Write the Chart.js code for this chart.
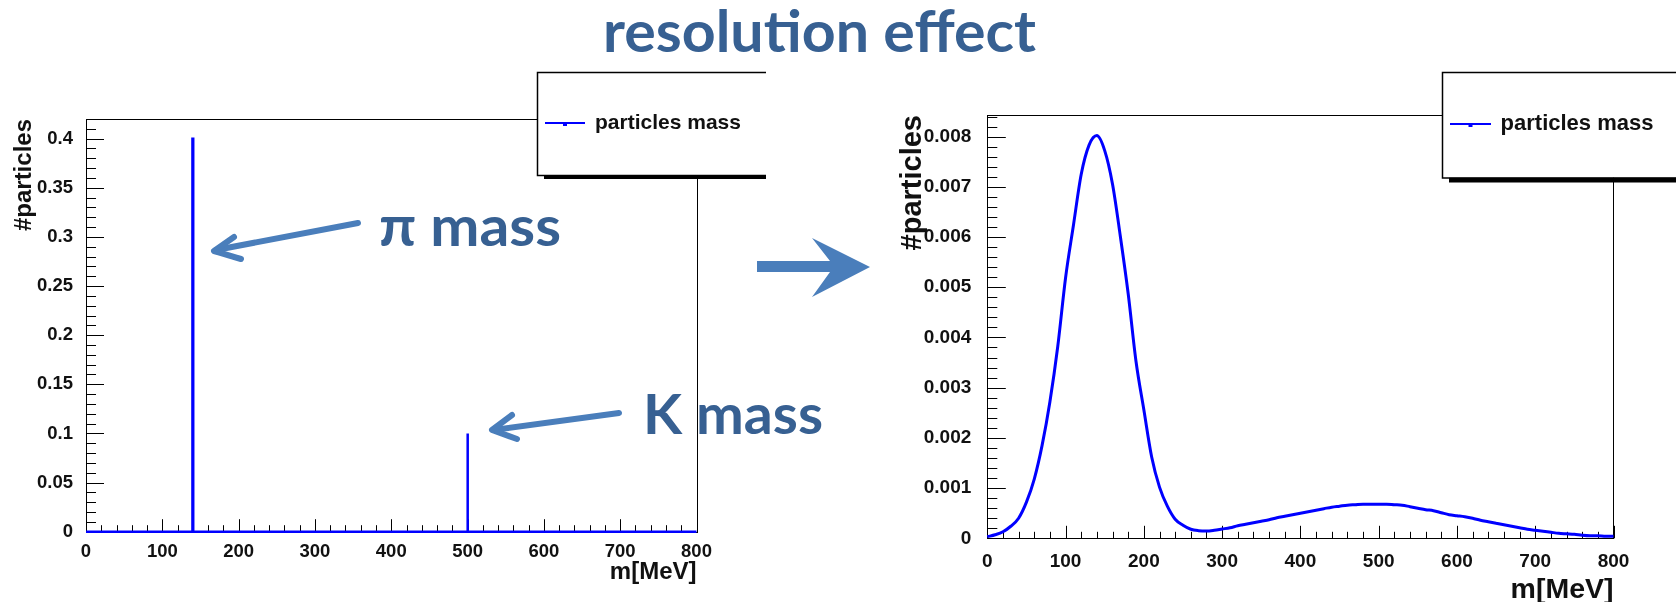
<!DOCTYPE html>
<html>
<head>
<meta charset="utf-8">
<script src="https://cdn.jsdelivr.net/npm/chart.js@4.4.1/dist/chart.umd.min.js"></script>
<style>
  html, body { margin: 0; padding: 0; background: #fff; overflow: hidden; }
  #page { position: relative; width: 1676px; height: 602px; overflow: hidden; }
  canvas { position: absolute; top: 0; }
  #leftChart { left: 0; }
  #rightChart { left: 840px; }
  #overlay { position: absolute; left: 0; top: 0; pointer-events: none; }
</style>
</head>
<body>
<div id="page">
  <canvas id="leftChart" width="766" height="640"></canvas>
  <canvas id="rightChart" width="836" height="640"></canvas>
  <svg id="overlay" width="1676" height="602" xmlns="http://www.w3.org/2000/svg">
    <text x="603" y="52" textLength="433" lengthAdjust="spacingAndGlyphs"
          font-family="Lato" font-weight="700" font-size="58" fill="#376092">resolution effect</text>
    <text x="379" y="246" textLength="182" lengthAdjust="spacingAndGlyphs"
          font-family="Lato" font-weight="700" font-size="56" fill="#376092">π mass</text>
    <text x="643" y="434" textLength="180" lengthAdjust="spacingAndGlyphs"
          font-family="Lato" font-weight="700" font-size="56" fill="#376092">K mass</text>
    <!-- pointer arrows -->
    <g stroke="#4a7ebb" stroke-width="6" fill="none" stroke-linecap="round" stroke-linejoin="round">
      <line x1="358" y1="223" x2="216" y2="250"/>
      <polyline points="234,237 214,251 241,259"/>
      <line x1="619" y1="413" x2="494" y2="430"/>
      <polyline points="512,415 492,430 517,439"/>
    </g>
    <polygon fill="#4a7ebb" points="757,261 830,261 812,238 870,267 812,297 830,272 757,272"/>
  </svg>
</div>

<script>
// ---- data ----
const xTicks = [0, 100, 200, 300, 400, 500, 600, 700, 800];

// left: true masses (delta peaks)
const trueMass = [140, 500];
const trueCount = [0.4, 0.1];
const leftYTicks = [0, 0.05, 0.1, 0.15, 0.2, 0.25, 0.3, 0.35, 0.4];
const leftYLabels = ['0', '0.05', '0.1', '0.15', '0.2', '0.25', '0.3', '0.35', '0.4'];

// right: smeared mass distribution
const smearMass = [0, 10, 20, 30, 40, 50, 60, 70, 80, 90,
    100, 110, 120, 130, 140, 150, 160, 170, 180, 190,
    200, 210, 220, 230, 240, 250, 260, 270, 280, 290,
    300, 310, 320, 330, 340, 350, 360, 370, 380, 390,
    400, 410, 420, 430, 440, 450, 460, 470, 480, 490,
    500, 510, 520, 530, 540, 550, 560, 570, 580, 590,
    600, 610, 620, 630, 640, 650, 660, 670, 680, 690,
    700, 710, 720, 730, 740, 750, 760, 770, 780, 790, 800];
const smearCount = [0.00003, 0.00007, 0.00013, 0.00024, 0.0004, 0.00072, 0.00118, 0.00185, 0.00272, 0.00382,
    0.00519, 0.00623, 0.00725, 0.00783, 0.00802, 0.00772, 0.00705, 0.00601, 0.00487, 0.00352,
    0.00256, 0.00162, 0.00102, 0.00064, 0.00038, 0.00026, 0.00018, 0.000152, 0.000145, 0.00016,
    0.000185, 0.00021, 0.00025, 0.00028, 0.00031, 0.00034, 0.00037, 0.00041, 0.00044, 0.00047,
    0.0005, 0.00053, 0.00056, 0.00059, 0.00062, 0.00064, 0.00066, 0.00067, 0.00068, 0.00068,
    0.00068, 0.00068, 0.00067, 0.00066, 0.00063, 0.0006, 0.00057, 0.00055, 0.00051, 0.00047,
    0.00045, 0.00043, 0.0004, 0.00036, 0.00033, 0.0003, 0.00027, 0.00024, 0.00021, 0.00018,
    0.00016, 0.00014, 0.00012, 0.0001, 0.00009, 0.00008, 0.00006, 0.00005, 0.00005, 0.00004, 0.00004];
const rightYTicks = [0, 0.001, 0.002, 0.003, 0.004, 0.005, 0.006, 0.007, 0.008];
const rightYLabels = ['0', '0.001', '0.002', '0.003', '0.004', '0.005', '0.006', '0.007', '0.008'];

const seriesLabel = 'particles mass';
const BLUE = '#0000ff';
const FONT = '"Liberation Sans", Arial, sans-serif';

// histogram with 1 MeV bins, drawn as steps
function stepPoints(masses, counts, lo, hi) {
    const pts = [{ x: lo, y: 0 }];
    masses.forEach((m, i) => {
        pts.push({ x: m - 0.5, y: 0 });
        pts.push({ x: m - 0.5, y: counts[i] });
        pts.push({ x: m + 0.5, y: counts[i] });
        pts.push({ x: m + 0.5, y: 0 });
    });
    pts.push({ x: hi, y: 0 });
    return pts;
}

// ROOT-style frame: box and inward ticks under the data, legend box with shadow on top
const rootFrame = {
    id: 'rootFrame',
    beforeDatasetsDraw(chart, args, o) {
        const ctx = chart.ctx;
        const a = chart.chartArea;
        const xs = chart.scales.x, ys = chart.scales.y;
        ctx.save();
        ctx.strokeStyle = '#000';
        ctx.lineWidth = 1;
        ctx.strokeRect(Math.round(a.left) + 0.5, Math.round(a.top) + 0.5,
            Math.round(a.right - a.left), Math.round(a.bottom - a.top));

        ctx.beginPath();
        for (let k = 0; k * o.xMinor <= xs.max + 1e-9; k++) {
            const v = k * o.xMinor;
            const major = Math.abs(v / o.xMajor - Math.round(v / o.xMajor)) < 1e-6;
            const px = Math.round(xs.getPixelForValue(v)) + 0.5;
            ctx.moveTo(px, a.bottom);
            ctx.lineTo(px, a.bottom - (major ? o.xMajorLen : o.xMinorLen));
        }
        for (let k = 0; k * o.yMinor <= ys.max + 1e-12; k++) {
            const v = k * o.yMinor;
            const major = Math.abs(v / o.yMajor - Math.round(v / o.yMajor)) < 1e-6;
            const py = Math.round(ys.getPixelForValue(v)) + 0.5;
            ctx.moveTo(a.left, py);
            ctx.lineTo(a.left + (major ? o.yMajorLen : o.yMinorLen), py);
        }
        ctx.stroke();
        ctx.restore();
    },
    afterDraw(chart, args, o) {
        const ctx = chart.ctx;
        const L = o.legend;
        const ds = chart.data.datasets[0];
        ctx.save();
        ctx.fillStyle = '#000';
        ctx.fillRect(L.x + 7, L.y + L.h, 400, L.shadow);
        ctx.fillStyle = '#fff';
        ctx.fillRect(L.x, L.y, 400, L.h);
        ctx.strokeStyle = '#000';
        ctx.lineWidth = 1.5;
        ctx.strokeRect(L.x + 0.5, L.y + 0.5, 400, L.h);
        ctx.strokeStyle = ds.borderColor;
        ctx.lineWidth = 2;
        ctx.beginPath();
        ctx.moveTo(L.x + 8, L.ly);
        ctx.lineTo(L.x + 8 + L.lw, L.ly);
        ctx.stroke();
        ctx.fillStyle = ds.borderColor;
        ctx.fillRect(L.x + 8 + L.lw / 2 - 2, L.ly - 1, 4, 4);
        ctx.fillStyle = '#111';
        ctx.font = 'bold ' + L.fs + 'px ' + FONT;
        ctx.textBaseline = 'middle';
        ctx.fillText(ds.label, L.tx, L.ly);
        ctx.restore();
    }
};

function makeChart(id, data, yMax, yTicks, yLabels, geo) {
    return new Chart(document.getElementById(id), {
        type: 'line',
        data: { datasets: [data] },
        options: {
            responsive: false,
            animation: false,
            devicePixelRatio: 1,
            layout: { padding: { left: 0, top: geo.top, right: geo.right, bottom: 0 } },
            plugins: {
                legend: { display: false },
                tooltip: { enabled: false },
                rootFrame: geo.frame
            },
            elements: { point: { radius: 0 } },
            scales: {
                x: {
                    type: 'linear', min: 0, max: 800,
                    grid: { display: false }, border: { display: false },
                    afterBuildTicks: s => { s.ticks = xTicks.map(v => ({ value: v })); },
                    afterFit: s => { s.height = geo.xh; },
                    ticks: {
                        autoSkip: false, maxRotation: 0, padding: geo.xPad, color: '#111',
                        font: { family: FONT, weight: 'bold', size: geo.fs }
                    },
                    title: {
                        display: true, text: 'm[MeV]', align: 'end', color: '#111',
                        font: { family: FONT, weight: 'bold', size: geo.xtfs },
                        padding: { top: 0, bottom: geo.xtPad }
                    }
                },
                y: {
                    min: 0, max: yMax,
                    grid: { display: false }, border: { display: false },
                    afterBuildTicks: s => { s.ticks = yTicks.map(v => ({ value: v })); },
                    afterFit: s => { s.width = geo.yw; },
                    ticks: {
                        padding: geo.yPad, color: '#111',
                        font: { family: FONT, weight: 'bold', size: geo.fs },
                        callback: (v, i) => yLabels[i]
                    },
                    title: {
                        display: true, text: '#particles', align: 'end', color: '#111',
                        font: { family: FONT, weight: 'bold', size: geo.ytfs },
                        padding: { top: geo.ytPad, bottom: 0 }
                    }
                }
            }
        },
        plugins: [rootFrame]
    });
}

makeChart('leftChart', {
    label: seriesLabel,
    data: stepPoints(trueMass, trueCount, 0, 800),
    borderColor: BLUE, borderWidth: 2.5, fill: false, tension: 0, clip: false
}, 0.42, leftYTicks, leftYLabels, {
    top: 119, right: 69.5, xh: 108.3, yw: 86, fs: 18.5, xPad: 1, yPad: 5,
    xtfs: 24, xtPad: 53, ytfs: 24, ytPad: 10,
    frame: {
        xMajor: 100, xMinor: 20, yMajor: 0.05, yMinor: 0.01,
        xMajorLen: 12.5, xMinorLen: 6.5, yMajorLen: 18, yMinorLen: 10,
        legend: { x: 537, y: 72, h: 103, shadow: 4, ly: 123, lw: 40, tx: 595, fs: 21 }
    }
});

makeChart('rightChart', {
    label: seriesLabel,
    data: smearMass.map((m, i) => ({ x: m, y: smearCount[i] })),
    borderColor: BLUE, borderWidth: 3, fill: false, cubicInterpolationMode: 'monotone', clip: false
}, 0.00843, rightYTicks, rightYLabels, {
    top: 115, right: 62.5, xh: 101.7, yw: 147.3, fs: 19, xPad: 4, yPad: 8,
    xtfs: 28.5, xtPad: 33, ytfs: 29, ytPad: 55.6,
    frame: {
        xMajor: 100, xMinor: 20, yMajor: 0.001, yMinor: 0.0002,
        xMajorLen: 12.5, xMinorLen: 6.5, yMajorLen: 18.5, yMinorLen: 10,
        legend: { x: 602, y: 72, h: 105.5, shadow: 5, ly: 124, lw: 41, tx: 660.6, fs: 22 }
    }
});
</script>
</body>
</html>
